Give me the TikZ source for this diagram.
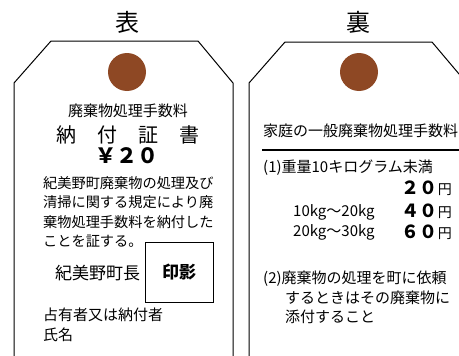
\documentclass[tikz,border=0pt]{standalone}
\usepackage{fontspec}
\setmainfont{Noto Sans CJK JP}
\definecolor{holebrown}{RGB}{142,72,36}
\tikzset{
  tagline/.style={line width=1pt},
  hole/.style={circle, fill=holebrown, minimum size=38pt, inner sep=0pt},
  title/.style={font=\fontsize{24}{24}\selectfont},
  body/.style={font=\fontsize{15}{19.5}\selectfont, inner sep=0pt},
  amount/.style={font=\fontsize{18}{18}\selectfont\bfseries, inner sep=0pt},
}
\begin{document}
\begin{tikzpicture}[x=1pt,y=-1pt]
\useasboundingbox (0,0) rectangle (459,356);
\clip (0,0) rectangle (459,356);

% front tag
\draw[tagline] (14,360) -- (14,83) -- (51,41) -- (198,41) -- (233,83) -- (233,360);
\node[title] (omote) at (127,22) {表};
\node[hole] (hole1) at (127,72) {};
\node[body] (fee) at (128,111) {廃棄物処理手数料};
\node[body, font=\fontsize{20}{20}\selectfont] (cert) at (128,135) {納\hspace{21pt}付\hspace{21pt}証\hspace{21pt}書};
\node[amount, font=\fontsize{21}{21}\selectfont\bfseries] (yen) at (127,156) {￥２０};
\node[body, font=\fontsize{14.2}{19.5}\selectfont, anchor=north west, align=left] (text) at (43,176) {紀美野町廃棄物の処理及び\\清掃に関する規定により廃\\棄物処理手数料を納付した\\ことを証する。};
\node[body, font=\fontsize{17}{17}\selectfont, anchor=west] (mayor) at (55,273) {紀美野町長};
\node[draw, line width=0.8pt, minimum width=68pt, minimum height=60pt,
      font=\fontsize{17}{17}\selectfont\bfseries] (seal) at (179,272) {印影};
\node[body, anchor=north west, align=left] (owner) at (43,308) {占有者又は納付者\\氏名};

% back tag
\draw[tagline] (249,360) -- (249,83) -- (285,42) -- (432,42) -- (470,87);
\node[title] (ura) at (358,22) {裏};
\node[hole] (hole2) at (359,72) {};
\node[body, anchor=west] (home) at (263,131) {家庭の一般廃棄物処理手数料};
\draw[line width=1.5pt] (262,150) -- (462,150);
\node[body, anchor=west] (item1) at (263,168) {(1)重量10キログラム未満};
\node[anchor=east, inner sep=0pt] (p20) at (452,188) {{\fontsize{18}{18}\selectfont\bfseries ２０}{\fontsize{14}{14}\selectfont 円}};
\node[body, anchor=west] (w20) at (293,212) {10kg～20kg};
\node[anchor=east, inner sep=0pt] (p40) at (452,211) {{\fontsize{18}{18}\selectfont\bfseries ４０}{\fontsize{14}{14}\selectfont 円}};
\node[body, anchor=west] (w30) at (293,232) {20kg～30kg};
\node[anchor=east, inner sep=0pt] (p60) at (452,232) {{\fontsize{18}{18}\selectfont\bfseries ６０}{\fontsize{14}{14}\selectfont 円}};
\node[body, anchor=north west, align=left] (item2) at (263,271) {(2)廃棄物の処理を町に依頼\\\hspace{22pt}するときはその廃棄物に\\\hspace{22pt}添付すること};
\end{tikzpicture}
\end{document}
